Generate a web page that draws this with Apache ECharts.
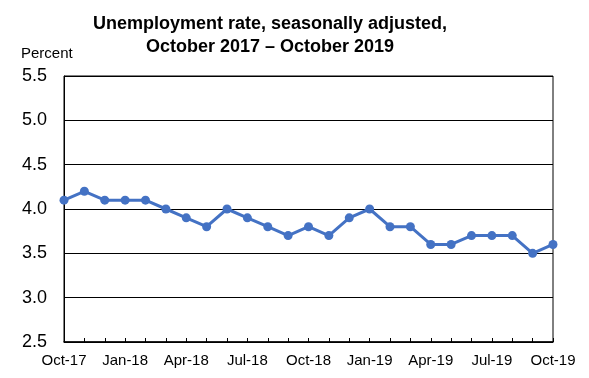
<!DOCTYPE html>
<html><head><meta charset="utf-8">
<script src="https://cdn.jsdelivr.net/npm/echarts@6/dist/echarts.min.js"></script>
<style>html,body{margin:0;padding:0;background:#fff}#c{width:589px;height:378px}</style>
</head><body><div id="c"></div>
<script>
const months = ["Oct-17","Nov-17","Dec-17","Jan-18","Feb-18","Mar-18","Apr-18","May-18","Jun-18","Jul-18","Aug-18","Sep-18","Oct-18","Nov-18","Dec-18","Jan-19","Feb-19","Mar-19","Apr-19","May-19","Jun-19","Jul-19","Aug-19","Sep-19","Oct-19"];
const rate = [4.1,4.2,4.1,4.1,4.1,4.0,3.9,3.8,4.0,3.9,3.8,3.7,3.8,3.7,3.9,4.0,3.8,3.8,3.6,3.6,3.7,3.7,3.7,3.5,3.6];
const titleText = "Unemployment rate, seasonally adjusted,\nOctober 2017 \u2013 October 2019";
const yName = "Percent";

const chart = echarts.init(document.getElementById('c'), null, {renderer:'canvas'});
chart.setOption({
  animation:false,
  backgroundColor:'#fff',
  title:[{
    text:titleText, left:265, top:8, textAlign:'center',
    textStyle:{fontFamily:'Liberation Sans, Arial', fontWeight:'bold', fontSize:18, color:'#000', lineHeight:23}
  },{
    text:yName, left:16, top:41,
    textStyle:{fontFamily:'Liberation Sans, Arial', fontWeight:'normal', fontSize:15, color:'#000'}
  }],
  grid:{left:64, right:36, top:76, bottom:36, show:true, borderColor:'#000', borderWidth:1},
  xAxis:{
    type:'category', data:months, boundaryGap:false,
    axisLine:{lineStyle:{color:'#000', width:1.5}},
    axisTick:{show:true, inside:true, length:4, interval:0, lineStyle:{color:'#000'}},
    axisLabel:{interval:2, color:'#000', fontFamily:'Liberation Sans, Arial', fontSize:15, margin:11},
    splitLine:{show:false}
  },
  yAxis:{
    type:'value', min:2.5, max:5.5, interval:0.5,
    axisLine:{show:true, lineStyle:{color:'#000'}},
    axisTick:{show:false},
    axisLabel:{color:'#000', fontFamily:'Liberation Sans, Arial', fontSize:18, margin:17, formatter:v=>v.toFixed(1)},
    splitLine:{show:true, lineStyle:{color:'#000', width:1}}
  },
  series:[{
    type:'line', data:rate,
    lineStyle:{color:'#4472C4', width:3},
    itemStyle:{color:'#4472C4'},
    symbol:'circle', symbolSize:9, clip:false
  }]
});
</script></body></html>
